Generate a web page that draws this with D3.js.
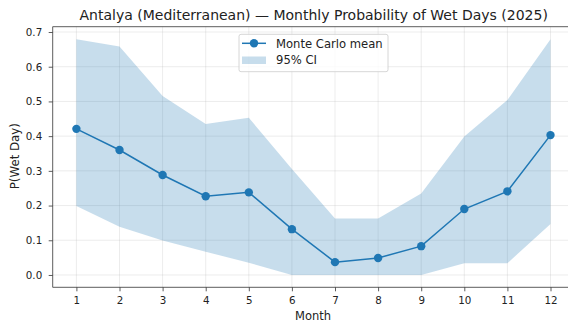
<!DOCTYPE html>
<html>
<head>
<meta charset="utf-8">
<script src="https://cdn.jsdelivr.net/npm/d3@7"></script>
<style>
body { margin: 0; background: #fff; }
svg { display: block; font-family: "DejaVu Sans", sans-serif; }
</style>
</head>
<body>
<script>
var months = [1, 2, 3, 4, 5, 6, 7, 8, 9, 10, 11, 12];
var meanP = [0.421, 0.360, 0.288, 0.227, 0.238, 0.132, 0.037, 0.049, 0.083, 0.190, 0.241, 0.403];
var upperCI = [0.679, 0.658, 0.516, 0.435, 0.453, 0.305, 0.163, 0.163, 0.235, 0.399, 0.504, 0.679];
var lowerCI = [0.199, 0.139, 0.099, 0.067, 0.035, 0.0, 0.0, 0.0, 0.0, 0.034, 0.034, 0.147];
var yTicks = [0.0, 0.1, 0.2, 0.3, 0.4, 0.5, 0.6, 0.7];

window.onload = function()
{
  var width = 568, height = 322;
  var left = 52.7, topY = 26.7, bottom = 287.3;
  var blue = "#1f77b4";

  var svg = d3.select("body").append("svg")
    .attr("width", width)
    .attr("height", height);

  var x = d3.scaleLinear().domain([0.45, 12.55]).range([left, left + 12.1 * 43.1]);
  var y = d3.scaleLinear().domain([-0.0355, 0.7153]).range([bottom, topY]);

  var data = months.map(function(m, i) {
    return { m: m, mean: meanP[i], lo: lowerCI[i], hi: upperCI[i] };
  });

  // grid
  svg.append("g").selectAll("line")
    .data(months).enter().append("line")
    .attr("x1", function(d) { return x(d); })
    .attr("x2", function(d) { return x(d); })
    .attr("y1", topY).attr("y2", bottom)
    .attr("stroke", "#b0b0b0").attr("stroke-opacity", 0.3).attr("stroke-width", 0.8);
  svg.append("g").selectAll("line")
    .data(yTicks).enter().append("line")
    .attr("x1", left).attr("x2", width)
    .attr("y1", function(d) { return y(d); })
    .attr("y2", function(d) { return y(d); })
    .attr("stroke", "#b0b0b0").attr("stroke-opacity", 0.3).attr("stroke-width", 0.8);

  // CI band
  var area = d3.area()
    .x(function(d) { return x(d.m); })
    .y0(function(d) { return y(d.lo); })
    .y1(function(d) { return y(d.hi); });
  svg.append("path").datum(data)
    .attr("d", area)
    .attr("fill", blue).attr("fill-opacity", 0.25);

  // mean line
  var line = d3.line()
    .x(function(d) { return x(d.m); })
    .y(function(d) { return y(d.mean); });
  svg.append("path").datum(data)
    .attr("d", line)
    .attr("fill", "none").attr("stroke", blue).attr("stroke-width", 1.5);
  svg.append("g").selectAll("circle")
    .data(data).enter().append("circle")
    .attr("cx", function(d) { return x(d.m); })
    .attr("cy", function(d) { return y(d.mean); })
    .attr("r", 4.2)
    .attr("fill", blue);

  // axes
  var xAxis = d3.axisBottom(x).tickValues(months).tickSize(4).tickPadding(5).tickFormat(d3.format("d"));
  var yAxis = d3.axisLeft(y).tickValues(yTicks).tickSize(4).tickPadding(6.5).tickFormat(d3.format(".1f"));

  var gx = svg.append("g").attr("transform", "translate(0," + bottom + ")").call(xAxis);
  var gy = svg.append("g").attr("transform", "translate(" + left + ",0)").call(yAxis);
  [gx, gy].forEach(function(g) {
    g.select(".domain").remove();
    g.selectAll(".tick line").attr("stroke", "#333").attr("stroke-width", 0.8);
    g.selectAll(".tick text").attr("fill", "#222").style("font-size", "10.3px").style("font-family", "DejaVu Sans");
  });

  // spines
  svg.append("line").attr("x1", left).attr("x2", left).attr("y1", topY).attr("y2", bottom)
    .attr("stroke", "#333").attr("stroke-width", 0.8);
  svg.append("line").attr("x1", left).attr("x2", width).attr("y1", bottom).attr("y2", bottom)
    .attr("stroke", "#333").attr("stroke-width", 0.8);
  svg.append("line").attr("x1", left).attr("x2", width).attr("y1", topY).attr("y2", topY)
    .attr("stroke", "#333").attr("stroke-width", 0.8);

  // labels
  svg.append("text").attr("x", 313.7).attr("y", 19.5)
    .attr("text-anchor", "middle").style("font-size", "14px").attr("fill", "#222")
    .text("Antalya (Mediterranean) \u2014 Monthly Probability of Wet Days (2025)");
  svg.append("text").attr("x", 313).attr("y", 319.5)
    .attr("text-anchor", "middle").style("font-size", "11.5px").attr("fill", "#222")
    .text("Month");
  svg.append("text").attr("transform", "translate(19.3,156.2) rotate(-90)")
    .attr("text-anchor", "middle").style("font-size", "11.8px").attr("fill", "#222")
    .text("P(Wet Day)");

  // legend
  var lg = svg.append("g");
  lg.append("rect").attr("x", 239).attr("y", 34.3).attr("width", 149).attr("height", 37.4)
    .attr("rx", 2).attr("fill", "#fff").attr("fill-opacity", 0.8)
    .attr("stroke", "#ccc").attr("stroke-width", 0.8);
  lg.append("line").attr("x1", 242).attr("x2", 266).attr("y1", 43.3).attr("y2", 43.3)
    .attr("stroke", blue).attr("stroke-width", 1.5);
  lg.append("circle").attr("cx", 254).attr("cy", 43.3).attr("r", 4.2).attr("fill", blue);
  lg.append("rect").attr("x", 242).attr("y", 56.5).attr("width", 24).attr("height", 7.5)
    .attr("fill", blue).attr("fill-opacity", 0.25);
  lg.append("text").attr("x", 276).attr("y", 47.5).style("font-size", "11.6px").attr("fill", "#222")
    .text("Monte Carlo mean");
  lg.append("text").attr("x", 276).attr("y", 64.2).style("font-size", "11.6px").attr("fill", "#222")
    .text("95% CI");
}
</script>
</body>
</html>
